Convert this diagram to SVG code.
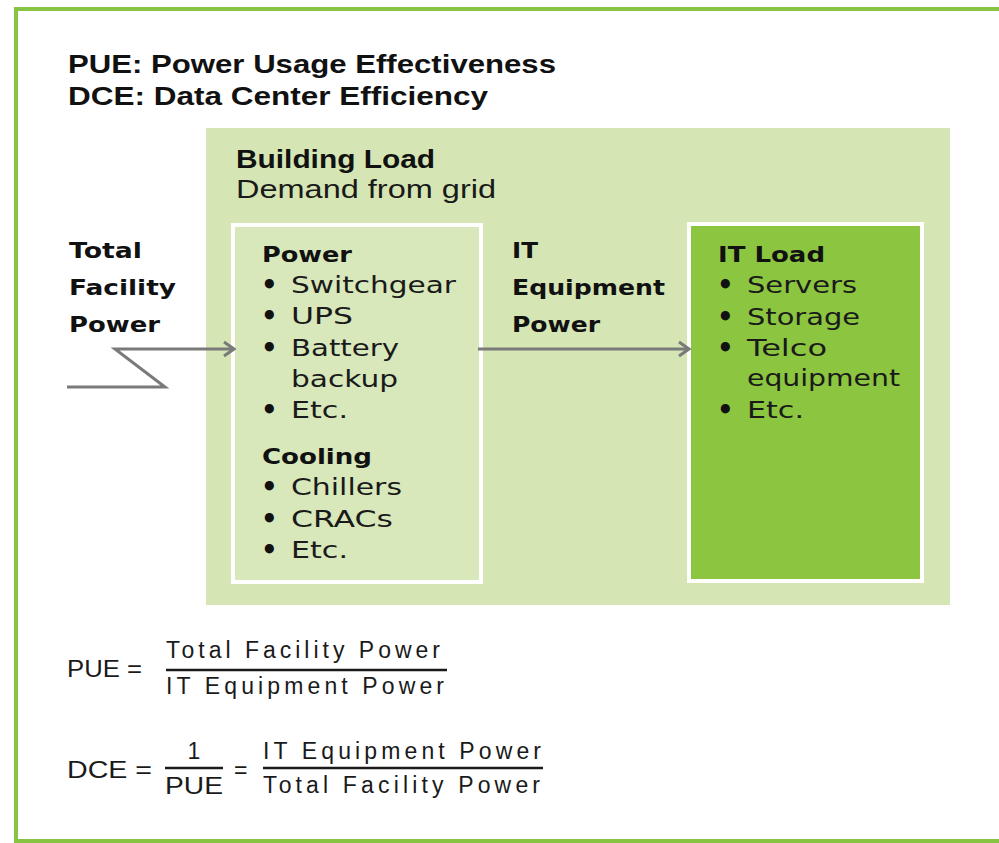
<svg xmlns="http://www.w3.org/2000/svg" width="999" height="843" viewBox="0 0 999 843">
<style>
.hd{font-family:"Liberation Sans",Arial,sans-serif;font-weight:bold;font-size:25px;fill:#111}
.bl{font-family:"DejaVu Sans","Liberation Sans",sans-serif;font-weight:bold;font-size:21px;fill:#111}
.tx{font-family:"DejaVu Sans","Liberation Sans",sans-serif;font-size:23px;fill:#1a1a1a}
.bu{font-family:"DejaVu Sans","Liberation Sans",sans-serif;font-size:26px;font-weight:bold;fill:#111}
.dm{font-family:"Liberation Sans",Arial,sans-serif;font-size:25px;fill:#1a1a1a}
.fm{font-family:"Liberation Sans",Arial,sans-serif;font-size:23px;fill:#1a1a1a}
.bar{stroke:#1a1a1a;stroke-width:2.5}
.conn{fill:none;stroke:#7a7a7a;stroke-width:3}
</style>
<defs>
<marker id="chev" markerWidth="14" markerHeight="18" refX="12" refY="9" orient="auto" markerUnits="userSpaceOnUse">
<path d="M2,2 L12,9 L2,16" fill="none" stroke="#7a7a7a" stroke-width="3"/>
</marker>
</defs>
<rect x="0" y="0" width="999" height="843" fill="#ffffff"/>
<rect x="16" y="9" width="1000" height="832" fill="none" stroke="#86c441" stroke-width="4"/>

<g id="title">
<text class="hd" x="68" y="73" textLength="488" lengthAdjust="spacingAndGlyphs">PUE: Power Usage Effectiveness</text>
<text class="hd" x="68" y="105" textLength="420" lengthAdjust="spacingAndGlyphs">DCE: Data Center Efficiency</text>
</g>

<g id="building-load">
<rect x="206" y="128" width="744" height="477" fill="#d5e6b4"/>
<text class="hd" x="236" y="168" font-size="23" textLength="199" lengthAdjust="spacingAndGlyphs">Building Load</text>
<text class="dm" x="236" y="198" textLength="260" lengthAdjust="spacingAndGlyphs">Demand from grid</text>
</g>

<g id="total-facility-power">
<text class="bl" x="69" y="258" textLength="73" lengthAdjust="spacingAndGlyphs">Total</text>
<text class="bl" x="69" y="295" textLength="107" lengthAdjust="spacingAndGlyphs">Facility</text>
<text class="bl" x="69" y="332" textLength="91" lengthAdjust="spacingAndGlyphs">Power</text>
</g>

<g id="power-cooling">
<rect x="233" y="225" width="248" height="357" fill="#d8e8ba" stroke="#ffffff" stroke-width="4"/>
<text class="bl" x="262" y="262" textLength="90" lengthAdjust="spacingAndGlyphs">Power</text>
<g class="bu">
<text x="261" y="294">•</text><text x="261" y="325">•</text><text x="261" y="357">•</text><text x="261" y="419">•</text>
<text x="261" y="496">•</text><text x="261" y="528">•</text><text x="261" y="559">•</text>
</g>
<g class="tx">
<text x="291" y="293" textLength="165" lengthAdjust="spacingAndGlyphs">Switchgear</text>
<text x="291" y="324" textLength="62" lengthAdjust="spacingAndGlyphs">UPS</text>
<text x="291" y="356" textLength="108" lengthAdjust="spacingAndGlyphs">Battery</text>
<text x="291" y="387" textLength="107" lengthAdjust="spacingAndGlyphs">backup</text>
<text x="291" y="418" textLength="57" lengthAdjust="spacingAndGlyphs">Etc.</text>
</g>
<text class="bl" x="262" y="464" textLength="110" lengthAdjust="spacingAndGlyphs">Cooling</text>
<g class="tx">
<text x="291" y="495" textLength="111" lengthAdjust="spacingAndGlyphs">Chillers</text>
<text x="291" y="527" textLength="102" lengthAdjust="spacingAndGlyphs">CRACs</text>
<text x="291" y="558" textLength="57" lengthAdjust="spacingAndGlyphs">Etc.</text>
</g>
</g>

<g id="it-equipment-power">
<text class="bl" x="512" y="258" textLength="26" lengthAdjust="spacingAndGlyphs">IT</text>
<text class="bl" x="512" y="295" textLength="153" lengthAdjust="spacingAndGlyphs">Equipment</text>
<text class="bl" x="512" y="332" textLength="88" lengthAdjust="spacingAndGlyphs">Power</text>
</g>

<g id="it-load">
<rect x="689" y="224" width="233" height="357" fill="#8cc53f" stroke="#ffffff" stroke-width="4"/>
<text class="bl" x="718" y="262" textLength="107" lengthAdjust="spacingAndGlyphs">IT Load</text>
<g class="bu">
<text x="717" y="294">•</text><text x="717" y="326">•</text><text x="717" y="357">•</text><text x="717" y="419">•</text>
</g>
<g class="tx">
<text x="747" y="293" textLength="110" lengthAdjust="spacingAndGlyphs">Servers</text>
<text x="747" y="325" textLength="113" lengthAdjust="spacingAndGlyphs">Storage</text>
<text x="747" y="356" textLength="80" lengthAdjust="spacingAndGlyphs">Telco</text>
<text x="747" y="386" textLength="153" lengthAdjust="spacingAndGlyphs">equipment</text>
<text x="747" y="418" textLength="57" lengthAdjust="spacingAndGlyphs">Etc.</text>
</g>
</g>

<g id="connectors">
<path class="conn" d="M67,387 L165,387 L115,349 L234,349" marker-end="url(#chev)"/>
<path class="conn" d="M478,349 L689,349" marker-end="url(#chev)"/>
</g>

<g id="formulas">
<text class="fm" x="67" y="677" textLength="75" lengthAdjust="spacingAndGlyphs">PUE =</text>
<line class="bar" x1="166" y1="670" x2="447" y2="670"/>
<text class="fm" x="166" y="658" textLength="274" lengthAdjust="spacing">Total Facility Power</text>
<text class="fm" x="166" y="694" textLength="278" lengthAdjust="spacing">IT Equipment Power</text>

<text class="fm" x="67" y="778" font-size="25" textLength="85" lengthAdjust="spacingAndGlyphs">DCE =</text>
<line class="bar" x1="165" y1="768" x2="223" y2="768"/>
<text class="fm" x="194" y="759" text-anchor="middle" font-size="25">1</text>
<text class="fm" x="165" y="794" font-size="21" textLength="58" lengthAdjust="spacingAndGlyphs">PUE</text>
<text class="fm" x="234" y="778" font-size="25">=</text>
<line class="bar" x1="263" y1="768" x2="543" y2="768"/>
<text class="fm" x="263" y="759" textLength="278" lengthAdjust="spacing">IT Equipment Power</text>
<text class="fm" x="263" y="793" textLength="277" lengthAdjust="spacing">Total Facility Power</text>
</g>
</svg>
